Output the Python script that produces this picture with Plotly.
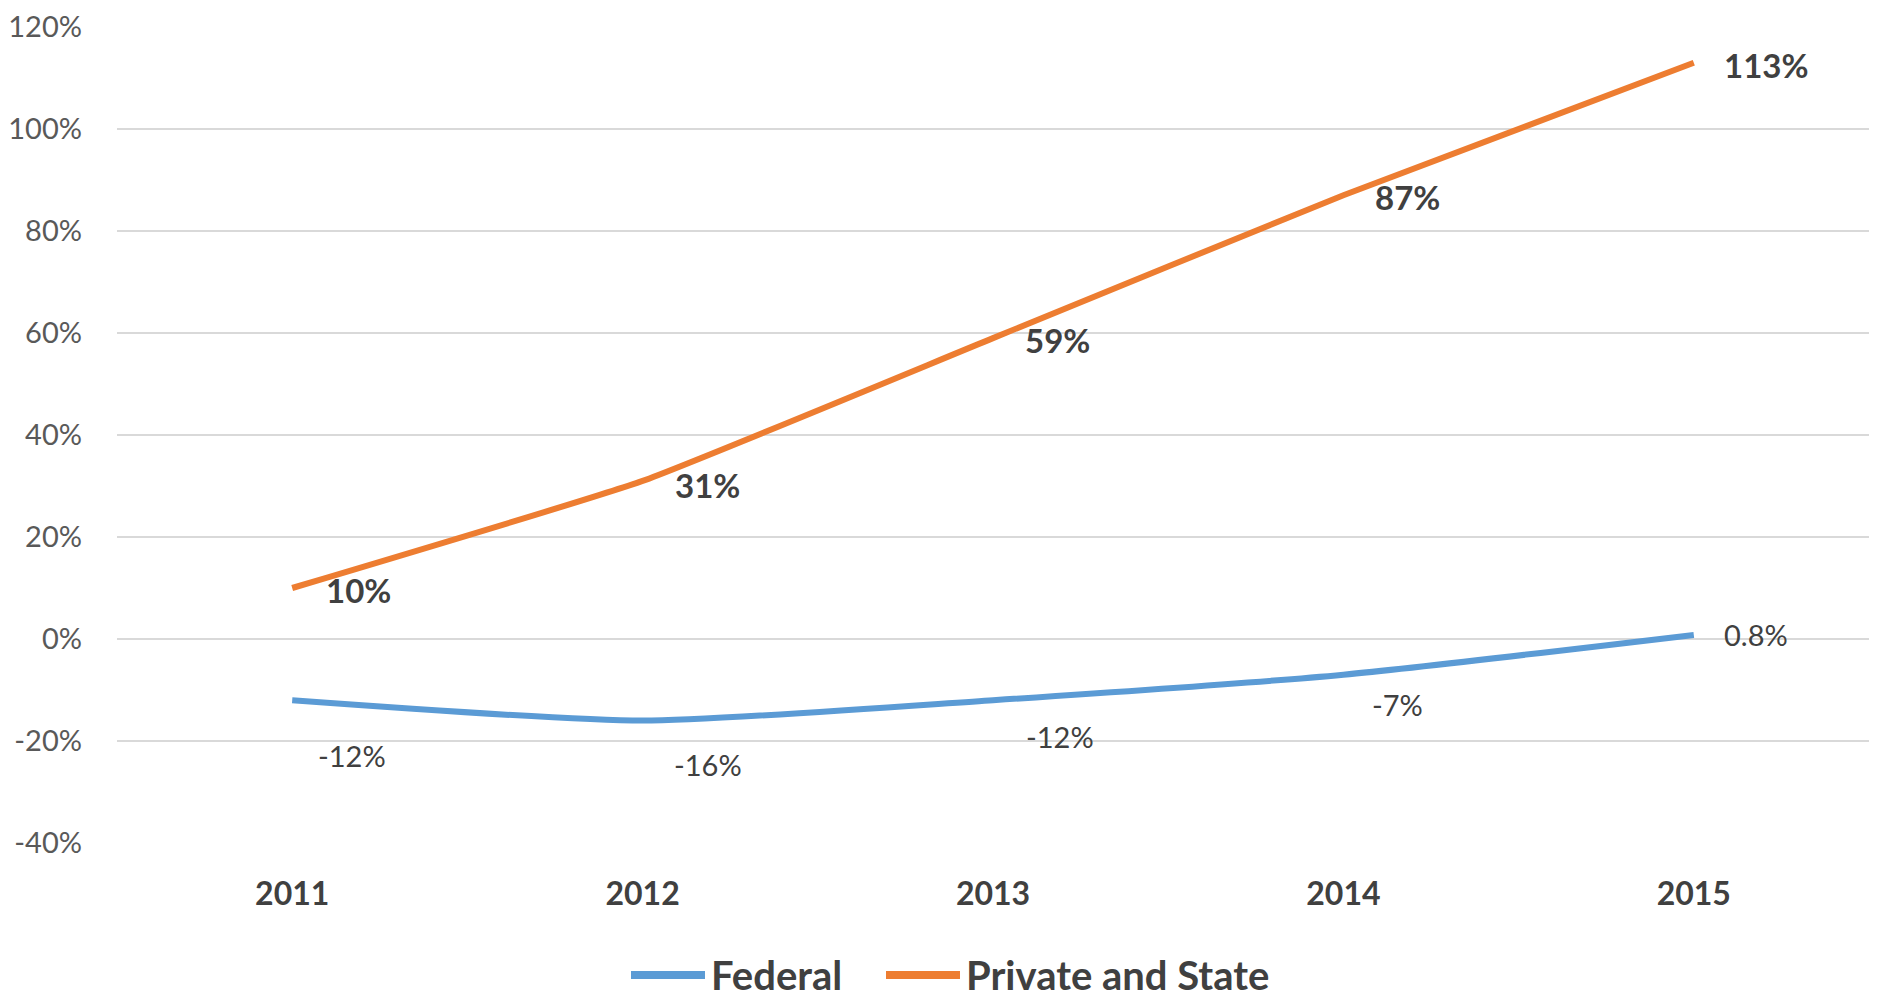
import plotly.graph_objects as go

years = ["2011", "2012", "2013", "2014", "2015"]
federal = [-12, -16, -12, -7, 0.8]
private_state = [10, 31, 59, 87, 113]
federal_labels = ["-12%", "-16%", "-12%", "-7%", "0.8%"]
private_labels = ["10%", "31%", "59%", "87%", "113%"]
series_names = ["Federal", "Private and State"]
y_ticks = [-40, -20, 0, 20, 40, 60, 80, 100, 120]
y_tick_text = ["-40%", "-20%", "0%", "20%", "40%", "60%", "80%", "100%", "120%"]

# label offsets (px) - styling only
fed_xshift = [24, 29, 31, 27, 28]
fed_yshift = [-55, -44, -36, -30, 0]
priv_xshift = [32, 30, 30, 30, 28]
priv_yshift = [-2, -4, -2, -2, -2]

FONT = "Lato, sans-serif"
BLUE = "#5B9BD5"
ORANGE = "#ED7D31"
L, R, T, B = 78, 20, 0, 162

fig = go.Figure()
fig.add_trace(go.Scatter(x=years, y=federal, mode="lines", name=series_names[0],
                         line=dict(color=BLUE, width=6, shape="spline", smoothing=0.6)))
fig.add_trace(go.Scatter(x=years, y=private_state, mode="lines", name=series_names[1],
                         line=dict(color=ORANGE, width=6, shape="spline", smoothing=0.4)))

for i in range(len(years)):
    fig.add_annotation(x=i, y=federal[i], xref="x", yref="y", text=federal_labels[i], showarrow=False,
                       xanchor="left", yanchor="middle", xshift=fed_xshift[i], yshift=fed_yshift[i],
                       font=dict(family=FONT, size=29, color="#404040"))
    fig.add_annotation(x=i, y=private_state[i], xref="x", yref="y", text="<b>" + private_labels[i] + "</b>",
                       showarrow=False,
                       xanchor="left", yanchor="middle", xshift=priv_xshift[i], yshift=priv_yshift[i],
                       font=dict(family=FONT, size=33, color="#404040"))

# custom legend (line swatch + bold label)
legend_line_x = [514, 769]
for name, color, lx in zip(series_names, [BLUE, ORANGE], legend_line_x):
    fig.add_shape(type="line", xref="paper", yref="paper", xsizemode="pixel", ysizemode="pixel",
                  xanchor=0, yanchor=0, x0=lx, x1=lx + 74, y0=-132, y1=-132,
                  line=dict(color=color, width=8))
    fig.add_annotation(xref="paper", yref="paper", x=0, y=0, xshift=lx + 78, yshift=-132,
                       xanchor="left", yanchor="middle", showarrow=False,
                       text="<b>" + name + "</b>",
                       font=dict(family=FONT, size=40, color="#404040"))

fig.update_layout(
    width=1881, height=997,
    margin=dict(l=L, r=R, t=T, b=B),
    paper_bgcolor="white", plot_bgcolor="white",
    font=dict(family=FONT, color="#595959"),
    showlegend=False,
    xaxis=dict(type="category", range=[-0.5, 4.5], showgrid=False, zeroline=False,
               showline=False, ticks="", ticklabelstandoff=29,
               tickfont=dict(family=FONT, size=32, color="#404040", weight="bold")),
    yaxis=dict(range=[-40, 120], tickvals=y_ticks, ticktext=y_tick_text,
               showgrid=True, gridcolor="#D9D9D9", gridwidth=2, zeroline=False,
               showline=False, ticks="", ticklabelstandoff=34, ticklabeloverflow="allow",
               tickfont=dict(family=FONT, size=29, color="#595959")),
)

fig.write_html("out.html")
